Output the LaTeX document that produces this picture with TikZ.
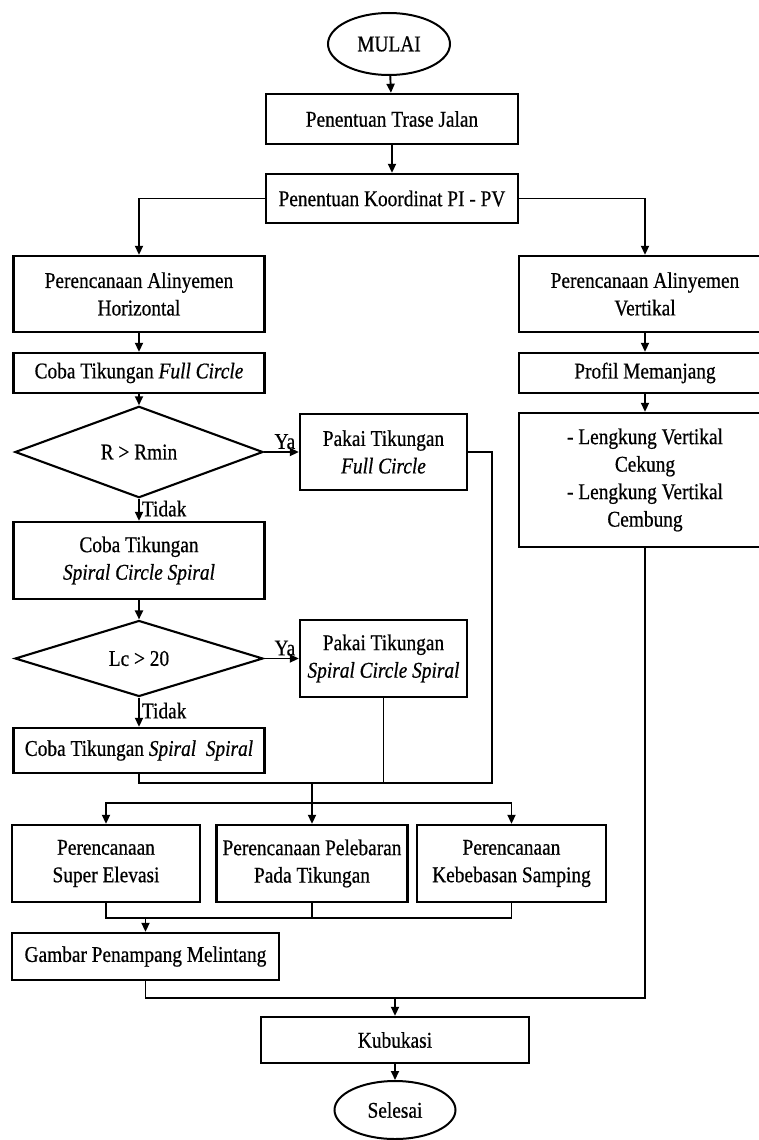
\documentclass[tikz,border=0pt]{standalone}
\usepackage{fontspec}
\setmainfont{Liberation Serif}[FakeStretch=0.86, FakeBold=0.6]
\usetikzlibrary{shapes.geometric, arrows.meta}

\begin{document}
\begin{tikzpicture}[x=1pt, y=-1pt,
    font=\fontsize{22.5}{27.5}\selectfont,
    line width=1.9pt,
    kotak/.style={draw, rectangle, align=center, inner sep=0pt, line width=2.4pt},
    bulat/.style={draw, ellipse, inner sep=0pt, line width=2pt},
    keputusan/.style={draw, diamond, inner sep=0pt, line width=2.1pt, minimum width=248pt, minimum height=76pt},
    panah/.style={-{Triangle[length=9pt, width=8pt]}},
    ket/.style={inner sep=2pt}]

    \def\kiri{139}
    \def\kanan{645}
    \def\tengah{392}

    \useasboundingbox (0,0) rectangle (759,1140);

    % --- Awal ---
    \node[bulat, minimum width=122pt, minimum height=62pt] (mulai) at (389,44) {MULAI};
    \node[kotak, minimum width=252pt, minimum height=50pt] (trase) at (\tengah,119) {Penentuan Trase Jalan};
    \node[kotak, minimum width=252pt, minimum height=49pt] (koord) at (\tengah,198.5) {Penentuan Koordinat PI - PV};

    % --- Alinyemen horizontal ---
    \node[kotak, minimum width=251pt, minimum height=76pt] (horiz) at (\kiri,294) {Perencanaan Alinyemen\\Horizontal};
    \node[kotak, minimum width=251pt, minimum height=40pt] (fc) at (\kiri,373) {Coba Tikungan \textit{Full Circle}};
    \node[keputusan] (d1) at (\kiri,452) {R > Rmin};
    \node[kotak, minimum width=167pt, minimum height=76pt] (pfc) at (383.5,452) {Pakai Tikungan\\\textit{Full Circle}};
    \node[kotak, minimum width=251pt, minimum height=77pt] (scs) at (\kiri,560.5) {Coba Tikungan\\\textit{Spiral Circle Spiral}};
    \node[keputusan] (d2) at (\kiri,658.5) {Lc > 20};
    \node[kotak, minimum width=167pt, minimum height=77pt] (pscs) at (383.5,658.5) {Pakai Tikungan\\\textit{Spiral Circle Spiral}};
    \node[kotak, minimum width=251pt, minimum height=45pt] (ss) at (\kiri,750.5) {Coba Tikungan \textit{Spiral\ \ Spiral}};

    % --- Alinyemen vertikal ---
    \node[kotak, minimum width=252pt, minimum height=76pt] (vert) at (\kanan,294) {Perencanaan Alinyemen\\Vertikal};
    \node[kotak, minimum width=252pt, minimum height=40pt] (profil) at (\kanan,373) {Profil Memanjang};
    \node[kotak, minimum width=252pt, minimum height=134pt] (lengkung) at (\kanan,480) {- Lengkung Vertikal\\Cekung\\- Lengkung Vertikal\\Cembung};

    % --- Perencanaan tikungan ---
    \node[kotak, minimum width=188pt, minimum height=77pt] (b1) at (106,863.5) {Perencanaan\\Super Elevasi};
    \node[kotak, minimum width=191pt, minimum height=77pt] (b2) at (312,863.5) {Perencanaan Pelebaran\\Pada Tikungan};
    \node[kotak, minimum width=189pt, minimum height=77pt] (b3) at (511.5,863.5) {Perencanaan\\Kebebasan Samping};
    \node[kotak, minimum width=267pt, minimum height=47pt] (gambar) at (145.5,956.5) {Gambar Penampang Melintang};

    % --- Akhir ---
    \node[kotak, minimum width=268pt, minimum height=46pt] (kub) at (395,1040) {Kubukasi};
    \node[bulat, minimum width=121pt, minimum height=58pt] (selesai) at (395,1110) {Selesai};

    % --- Titik bantu ---
    \coordinate (gabung) at (312,783);
    \coordinate (bagi) at (312,803);
    \coordinate (kumpul) at (145.5,918);
    \coordinate (akhir) at (395,998);

    % --- Panah ---
    \draw[panah] (mulai) -- (trase);
    \draw[panah] (trase) -- (koord);
    \draw[panah] (koord.west) -| (horiz.north);
    \draw[panah] (koord.east) -| (vert.north);
    \draw[panah] (horiz) -- (fc);
    \draw[panah] (fc) -- (d1);
    \draw[panah] (d1.east) -- (pfc.west) node[ket, pos=0.6, above] {Ya};
    \draw[panah] (d1.south) -- (scs.north) node[ket, pos=0.45, right] {Tidak};
    \draw[panah] (scs) -- (d2);
    \draw[panah] (d2.east) -- (pscs.west) node[ket, pos=0.6, above] {Ya};
    \draw[panah] (d2.south) -- (ss.north) node[ket, pos=0.45, right] {Tidak};
    \draw[panah] (vert) -- (profil);
    \draw[panah] (profil) -- (lengkung);

    % gabungan tikungan
    \draw (pfc.east) -- ++(24,0) |- (gabung);
    \draw (pscs.south) |- (gabung);
    \draw (ss.south) |- (gabung);
    \draw (gabung) -- (bagi);
    \draw[panah] (bagi) -| (b1.north);
    \draw[panah] (bagi) -| (b3.north);
    \draw[panah] (bagi) -- (b2.north);

    \draw (b1.south) |- (kumpul);
    \draw (b2.south) |- (kumpul);
    \draw (b3.south) |- (kumpul);
    \draw[panah] (kumpul) -- (gambar);

    \draw (gambar.south) |- (akhir);
    \draw (lengkung.south) |- (akhir);
    \draw[panah] (akhir) -- (kub);
    \draw[panah] (kub) -- (selesai);

\end{tikzpicture}
\end{document}
